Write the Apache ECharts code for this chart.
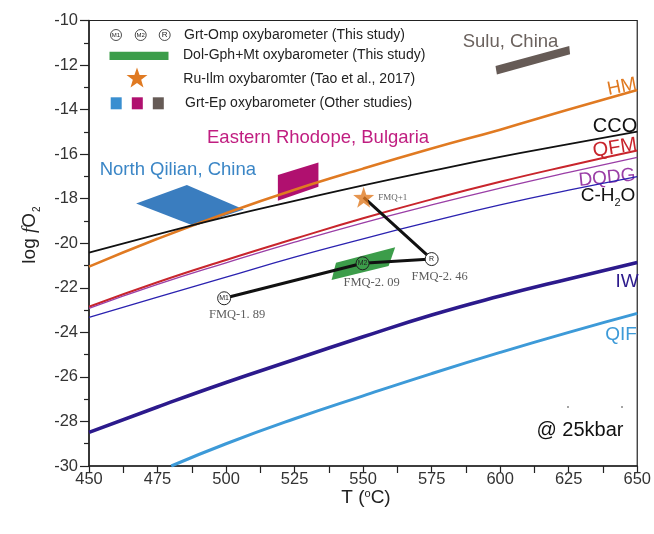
<!DOCTYPE html>
<html><head><meta charset="utf-8">
<script src="https://cdn.jsdelivr.net/npm/echarts@6/dist/echarts.min.js"></script>
<style>html,body{margin:0;padding:0;background:#fff}#c{width:654px;height:534px}</style>
</head><body><div id="c"></div>
<script>
// ---- data ----
const tempGrid = [450, 475, 500, 525, 550, 575, 600, 625, 650];
const hmValues   = [-21.05, -19.8, -18.65, -17.6, -16.65, -15.75, -14.9, -14.0, -13.12];
const ccoValues  = [-20.42, -19.6, -18.82, -18.1, -17.4, -16.75, -16.12, -15.55, -14.99];
const qfmValues  = [-22.85, -21.75, -20.75, -19.8, -18.88, -18.03, -17.24, -16.52, -15.84];
const dqdgValues = [-22.92, -21.85, -20.88, -19.95, -19.08, -18.28, -17.53, -16.82, -16.14];
const ch2oValues = [-23.33, -22.42, -21.52, -20.62, -19.8, -19.02, -18.28, -17.62, -17.01];
const iwValues   = [-28.49, -27.35, -26.25, -25.22, -24.2, -23.22, -22.37, -21.6, -20.86];
const qifTemps   = [480, 500, 525, 550, 575, 600, 625, 650];
const qifValues  = [-30.0, -29.0, -27.88, -26.85, -25.85, -24.9, -24.0, -23.15];

const northQilian = [[467.2, -18.21], [485.7, -17.39], [506.5, -18.48], [488.4, -19.23]];
const easternRhodope = [[518.9, -16.94], [533.7, -16.37], [533.7, -17.46], [518.9, -18.09]];
const sulu = [[598.3, -12.04], [625.2, -11.14], [625.5, -11.52], [598.8, -12.42]];
const dolGphMt = [[538.5, -21.65], [540.1, -20.87], [561.7, -20.18], [559.3, -21.02]];

const grtOmpPoints = [[499.3, -22.47], [549.8, -20.9], [575.0, -20.71]];
const grtOmpNames = ['M1', 'M2', 'R'];
const fmqLabels = ['FMQ-1. 89', 'FMQ-2. 09', 'FMQ-2. 46'];
const ruIlmPoint = [550.2, -17.94];
const ruIlmLabel = 'FMQ+1';

const xTicks = [450, 650, 25];
const yTicks = [-30, -10, 2];

// ---- chart ----
const FONT = "'Liberation Sans', Arial, sans-serif";
const SERIF = "'Liberation Serif', 'DejaVu Serif', serif";
const STAR = 'path://M0,-10 L2.35,-3.24 9.51,-3.09 3.8,1.24 5.88,8.09 0,4 -5.88,8.09 -3.8,1.24 -9.51,-3.09 -2.35,-3.24 Z';
const zip = (xs, ys) => xs.map((x, i) => [x, ys[i]]);
function starPoints(cx, cy, R, r) {
  const pts = [];
  for (let i = 0; i < 10; i++) {
    const a = -Math.PI / 2 + i * Math.PI / 5;
    const rad = i % 2 === 0 ? R : r;
    pts.push([cx + rad * Math.cos(a), cy + rad * Math.sin(a)]);
  }
  return pts;
}

function lineSeries(name, xs, ys, color, width) {
  return { name, type: 'line', data: zip(xs, ys), smooth: true, showSymbol: false, symbol: 'none',
    lineStyle: { color, width }, z: 3, silent: true, animation: false };
}
function polySeries(name, pts, color) {
  return { name, type: 'custom', data: [0], z: 2, silent: true, animation: false,
    renderItem: (params, api) => ({ type: 'polygon', shape: { points: pts.map(p => api.coord(p)) }, style: { fill: color } }) };
}

const chart = echarts.init(document.getElementById('c'), null, { renderer: 'canvas' });
const fmqItems = grtOmpPoints.map((p, i) => ({ value: p, label: { formatter: fmqLabels[i], offset: [[13, 16], [9, 19], [8, 18]][i] } }));
const circleItems = grtOmpPoints.map((p, i) => ({ value: p, name: grtOmpNames[i],
  itemStyle: { color: grtOmpNames[i] === 'M2' ? '#3c9d4a' : '#fff' } }));

chart.setOption({
  animation: false,
  backgroundColor: '#fff',
  grid: { left: 89, right: 13, top: 20.5, bottom: 68, show: true, borderColor: '#222', borderWidth: 1.2, backgroundColor: 'transparent' },
  xAxis: { type: 'value', min: xTicks[0], max: xTicks[1], interval: xTicks[2],
    axisLine: { lineStyle: { color: '#222', width: 1.5 } },
    axisTick: { length: 7, lineStyle: { color: '#222', width: 1.2 } },
    minorTick: { show: true, splitNumber: 2, length: 7, lineStyle: { color: '#222', width: 1.2 } },
    axisLabel: { color: '#333', fontSize: 16.5, fontFamily: FONT, margin: 5 },
    splitLine: { show: false } },
  yAxis: { type: 'value', min: yTicks[0], max: yTicks[1], interval: yTicks[2],
    axisLine: { lineStyle: { color: '#222', width: 1.5 } },
    axisTick: { length: 9, lineStyle: { color: '#222', width: 1.2 } },
    minorTick: { show: true, splitNumber: 2, length: 5, lineStyle: { color: '#222', width: 1.2 } },
    axisLabel: { color: '#333', fontSize: 16.5, fontFamily: FONT, margin: 11 },
    splitLine: { show: false } },
  series: [
    polySeries('North Qilian', northQilian, '#3a7dbf'),
    polySeries('Eastern Rhodope', easternRhodope, '#b0106f'),
    polySeries('Sulu', sulu, '#665b56'),
    polySeries('Dol-Gph+Mt', dolGphMt, '#3c9d4a'),
    lineSeries('HM', tempGrid, hmValues, '#e07a22', 2.6),
    lineSeries('CCO', tempGrid, ccoValues, '#111', 1.8),
    lineSeries('QFM', tempGrid, qfmValues, '#c8252c', 2),
    lineSeries('DQDG', tempGrid, dqdgValues, '#9a3ea6', 1.3),
    lineSeries('C-H2O', tempGrid, ch2oValues, '#2b22b0', 1.3),
    lineSeries('IW', tempGrid, iwValues, '#2c1a8c', 3.6),
    lineSeries('QIF', qifTemps, qifValues, '#3d9ad8', 3),
    { name: 'links', type: 'line', data: [...grtOmpPoints, ruIlmPoint], showSymbol: false, symbol: 'none',
      lineStyle: { color: '#111', width: 3 }, z: 4, silent: true },
    { name: 'fmq', type: 'scatter', data: fmqItems, symbolSize: 2, itemStyle: { color: 'rgba(0,0,0,0)' }, z: 5, silent: true,
      label: { show: true, position: 'inside', fontFamily: SERIF, fontSize: 12.5, color: '#333' } },
    { name: 'Grt-Omp', type: 'scatter', data: circleItems, symbol: 'circle', symbolSize: 13, z: 6, silent: true,
      itemStyle: { borderColor: '#222', borderWidth: 1, opacity: 1 },
      label: { show: true, position: 'inside', formatter: p => p.name, fontSize: 7, fontFamily: FONT, color: '#222' } },
    { name: 'Ru-Ilm', type: 'scatter', data: [ruIlmPoint], symbol: STAR, symbolSize: 21, z: 6, silent: true,
      itemStyle: { color: '#e07a22' },
      label: { show: true, position: 'right', distance: 4, formatter: ruIlmLabel, fontFamily: SERIF, fontSize: 9, color: '#333' } }
  ],
  graphic: [
    // legend
    { type: 'circle', shape: { cx: 116, cy: 35, r: 5.5 }, style: { fill: '#fff', stroke: '#222', lineWidth: 0.8 } },
    { type: 'circle', shape: { cx: 140.7, cy: 35, r: 5.5 }, style: { fill: '#fff', stroke: '#222', lineWidth: 0.8 } },
    { type: 'circle', shape: { cx: 164.7, cy: 35, r: 5.5 }, style: { fill: '#fff', stroke: '#222', lineWidth: 0.8 } },
    { type: 'text', x: 116, y: 35, style: { text: 'M1', fontSize: 6, fontFamily: FONT, fill: '#222', align: 'center', verticalAlign: 'middle' } },
    { type: 'text', x: 140.7, y: 35, style: { text: 'M2', fontSize: 6, fontFamily: FONT, fill: '#222', align: 'center', verticalAlign: 'middle' } },
    { type: 'text', x: 164.7, y: 35, style: { text: 'R', fontSize: 8, fontFamily: FONT, fill: '#222', align: 'center', verticalAlign: 'middle' } },
    { type: 'text', x: 184, y: 35, style: { text: 'Grt-Omp oxybarometer (This study)', fontSize: 14, fontFamily: FONT, fill: '#222', verticalAlign: 'middle' } },
    { type: 'rect', shape: { x: 109.5, y: 51.7, width: 59, height: 8.3 }, style: { fill: '#3c9d4a' } },
    { type: 'text', x: 183, y: 55.5, style: { text: 'Dol-Gph+Mt oxybarometer (This study)', fontSize: 14, fontFamily: FONT, fill: '#222', verticalAlign: 'middle' } },
    { type: 'polygon', shape: { points: starPoints(137, 78.5, 11, 4.4) }, style: { fill: '#e07a22' } },
    { type: 'text', x: 183.3, y: 79.3, style: { text: 'Ru-Ilm oxybaromter (Tao et al., 2017)', fontSize: 14, fontFamily: FONT, fill: '#222', verticalAlign: 'middle' } },
    { type: 'rect', shape: { x: 110.7, y: 97.3, width: 11, height: 12 }, style: { fill: '#3a8fd0' } },
    { type: 'rect', shape: { x: 131.8, y: 97.3, width: 11, height: 12 }, style: { fill: '#b0106f' } },
    { type: 'rect', shape: { x: 152.8, y: 97.3, width: 11, height: 12 }, style: { fill: '#665b56' } },
    { type: 'text', x: 185, y: 103.3, style: { text: 'Grt-Ep oxybarometer (Other studies)', fontSize: 14, fontFamily: FONT, fill: '#222', verticalAlign: 'middle' } },
    // region names
    { type: 'text', x: 99.7, y: 170, style: { text: 'North Qilian, China', fontSize: 18.5, fontFamily: FONT, fill: '#3b86c6', verticalAlign: 'middle' } },
    { type: 'text', x: 207, y: 138.3, style: { text: 'Eastern Rhodope, Bulgaria', fontSize: 18.5, fontFamily: FONT, fill: '#c01e80', verticalAlign: 'middle' } },
    { type: 'text', x: 462.7, y: 41.7, style: { text: 'Sulu, China', fontSize: 18.5, fontFamily: FONT, fill: '#6b625e', verticalAlign: 'middle' } },
    // buffer labels
    { type: 'text', x: 622, y: 87, rotation: 0.2, style: { text: 'HM', fontSize: 19, fontFamily: FONT, fill: '#e07a22', align: 'center', verticalAlign: 'middle' } },
    { type: 'text', x: 615, y: 126.5, style: { text: 'CCO', fontSize: 20, fontFamily: FONT, fill: '#111', align: 'center', verticalAlign: 'middle' } },
    { type: 'text', x: 615, y: 148, rotation: 0.15, style: { text: 'QFM', fontSize: 20, fontFamily: FONT, fill: '#c8252c', align: 'center', verticalAlign: 'middle' } },
    { type: 'text', x: 607, y: 178, rotation: 0.1, style: { text: 'DQDG', fontSize: 19, fontFamily: FONT, fill: '#9a3ea6', align: 'center', verticalAlign: 'middle' } },
    { type: 'text', x: 608, y: 196, style: { text: '{a|C-H}{s|2}{a|O}', fontFamily: FONT, fill: '#111', align: 'center', verticalAlign: 'middle',
        rich: { a: { fontSize: 19, fontFamily: FONT, fill: '#111' }, s: { fontSize: 11, fontFamily: FONT, fill: '#111', padding: [14, 0, 0, 0] } } } },
    { type: 'text', x: 627, y: 282, style: { text: 'IW', fontSize: 19, fontFamily: FONT, fill: '#2c1a8c', align: 'center', verticalAlign: 'middle' } },
    { type: 'text', x: 621, y: 334.5, style: { text: 'QIF', fontSize: 19, fontFamily: FONT, fill: '#3d9ad8', align: 'center', verticalAlign: 'middle' } },
    // pressure note
    { type: 'text', x: 580, y: 430, style: { text: '@ 25kbar', fontSize: 20, fontFamily: FONT, fill: '#111', align: 'center', verticalAlign: 'middle' } },
    { type: 'circle', shape: { cx: 568, cy: 407, r: 0.8 }, style: { fill: '#333' } },
    { type: 'circle', shape: { cx: 622, cy: 407, r: 0.8 }, style: { fill: '#333' } },
    // axis titles
    { type: 'text', x: 30, y: 235, rotation: Math.PI / 2, style: { text: '{a|log }{f|f}{a|O}{s|2}', align: 'center', verticalAlign: 'middle',
        rich: { a: { fontSize: 19, fontFamily: FONT, fill: '#222' }, f: { fontSize: 19, fontFamily: SERIF, fontStyle: 'italic', fill: '#222' },
                s: { fontSize: 10, fontFamily: FONT, fill: '#222', padding: [14, 0, 0, 1] } } } },
    { type: 'text', x: 366, y: 498, style: { text: '{a|T (}{o|o}{a|C)}', align: 'center', verticalAlign: 'middle',
        rich: { a: { fontSize: 19, fontFamily: FONT, fill: '#222' }, o: { fontSize: 11, fontFamily: FONT, fill: '#222', padding: [0, 0, 9, 0] } } } }
  ]
});
</script></body></html>
